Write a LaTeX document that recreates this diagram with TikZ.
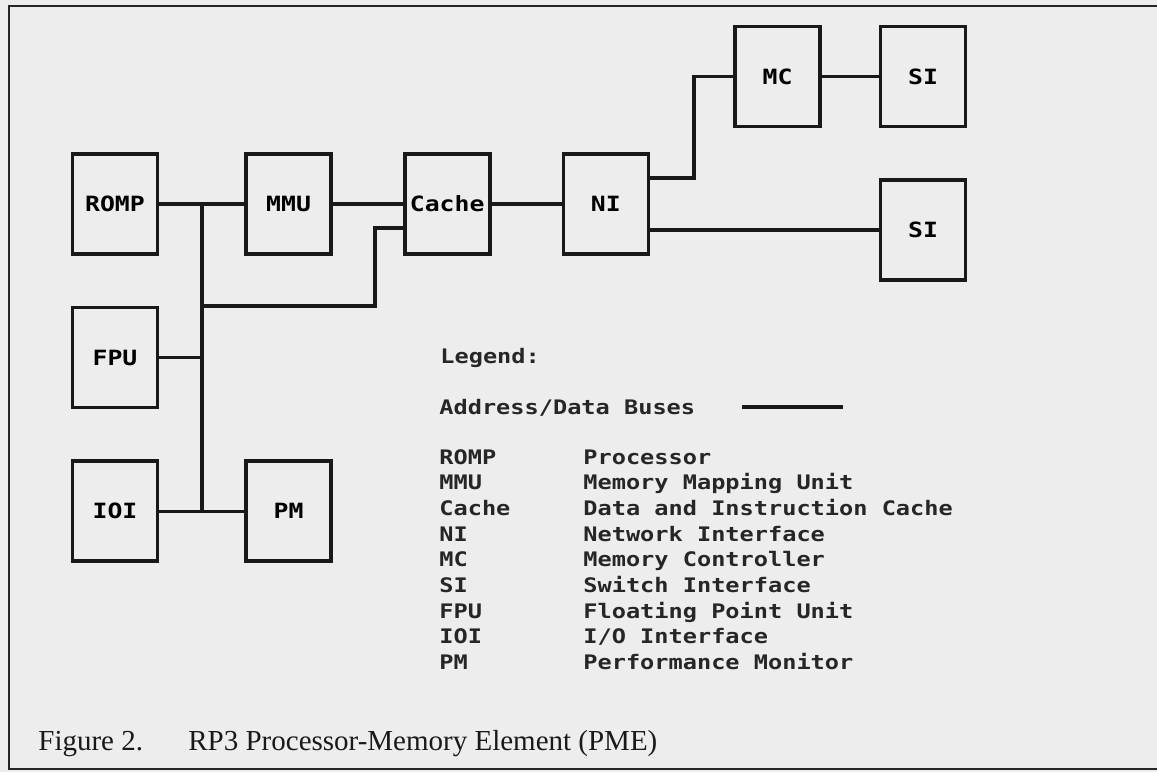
\documentclass[tikz,border=0pt]{standalone}
\usepackage{fontspec}
\setmainfont{Liberation Serif}
\newfontfamily\gothicfont[FakeStretch=1.18]{DejaVu Sans Mono}
\usetikzlibrary{positioning, calc}

\begin{document}
\begin{tikzpicture}[
    x=0.5pt, y=-0.5pt,
    node distance=25pt and 42.5pt,
    font=\gothicfont\bfseries\fontsize{10}{12}\selectfont,
    unit/.style={rectangle, draw=black!90, line width=1.8pt, minimum width=42.5pt, minimum height=50pt, inner sep=0pt, align=center, font=\gothicfont\bfseries\fontsize{10.5}{12}\selectfont},
    bus/.style={draw=black!90, line width=1.7pt},
    legtext/.style={anchor=base west, inner sep=0pt, text=black!85},
    captext/.style={anchor=base west, inner sep=0pt, text=black!90, font=\rmfamily\fontsize{14.5}{17}\selectfont}
]

% Paper and frame
\useasboundingbox (0,0) rectangle (1157,772);
\fill[black!7] (0,0) rectangle (1157,772);
\draw[line width=1.2pt, black!85] (1160,6) -- (9,6) -- (9,769) -- (1160,769);

% Processor side
\node[unit] (blk_romp) at (115,204) {ROMP};
\node[unit, right=of blk_romp] (blk_mmu) {MMU};
\node[unit, right=35pt of blk_mmu] (blk_cache) {Cache};
\node[unit, right=35pt of blk_cache] (blk_ni) {NI};
\node[unit, below=of blk_romp] (blk_fpu) {FPU};
\node[unit, below=of blk_fpu] (blk_ioi) {IOI};
\node[unit, right=of blk_ioi] (blk_pm) {PM};

% Memory and switch side
\node[unit] (blk_mc) at (777.5,76.5) {MC};
\node[unit, right=28.5pt of blk_mc] (blk_si_a) {SI};
\node[unit, below=of blk_si_a] (blk_si_b) {SI};

% Bus points
\coordinate (bus_top) at ($(blk_romp.east)!0.5!(blk_mmu.west)$);
\coordinate (bus_bot) at (bus_top |- blk_ioi.east);
\coordinate (cache_in) at ([yshift=-12pt]blk_cache.west);
\coordinate (cache_riser) at ([xshift=-14pt]cache_in);
\coordinate (mc_riser) at ([xshift=22pt]blk_ni.east);

% Connections
\draw[bus] (blk_romp.east) -- (blk_mmu.west);
\draw[bus] (bus_top) -- (bus_bot);
\draw[bus] (blk_fpu.east) -- (blk_fpu.east -| bus_top);
\draw[bus] (blk_ioi.east) -- (blk_pm.west);
\draw[bus] (bus_top |- blk_fpu.north) -| (cache_riser) -- (cache_in);
\draw[bus] (blk_mmu.east) -- (blk_cache.west);
\draw[bus] (blk_cache.east) -- (blk_ni.west);
\draw[bus] ([yshift=13pt]blk_ni.east) -| (mc_riser |- blk_mc.west) -- (blk_mc.west);
\draw[bus] (blk_mc.east) -- (blk_si_a.west);
\draw[bus] (blk_ni.east |- blk_si_b.west) -- (blk_si_b.west);

% Legend
\node[legtext] (leg_title) at (440,363) {Legend:};
\node[legtext] (leg_bus) at (439,414) {Address/Data Buses};
\coordinate (key_a) at (742,407);
\coordinate (key_b) at (843,407);
\draw[bus] (key_a) -- (key_b);

\node[legtext] (abbr_romp) at (439,464) {ROMP};
\node[legtext] (desc_romp) at (583,464) {Processor};
\node[legtext] (abbr_mmu) at (439,489.7) {MMU};
\node[legtext] (desc_mmu) at (583,489.7) {Memory Mapping Unit};
\node[legtext] (abbr_cache) at (439,515.4) {Cache};
\node[legtext] (desc_cache) at (583,515.4) {Data and Instruction Cache};
\node[legtext] (abbr_ni) at (439,541.1) {NI};
\node[legtext] (desc_ni) at (583,541.1) {Network Interface};
\node[legtext] (abbr_mc) at (439,566.8) {MC};
\node[legtext] (desc_mc) at (583,566.8) {Memory Controller};
\node[legtext] (abbr_si) at (439,592.5) {SI};
\node[legtext] (desc_si) at (583,592.5) {Switch Interface};
\node[legtext] (abbr_fpu) at (439,618.2) {FPU};
\node[legtext] (desc_fpu) at (583,618.2) {Floating Point Unit};
\node[legtext] (abbr_ioi) at (439,643.9) {IOI};
\node[legtext] (desc_ioi) at (583,643.9) {I/O Interface};
\node[legtext] (abbr_pm) at (439,669.6) {PM};
\node[legtext] (desc_pm) at (583,669.6) {Performance Monitor};

% Caption
\node[captext] (cap_num) at (38,750) {Figure 2.};
\node[captext] (cap_title) at (188,750) {RP3 Processor-Memory Element (PME)};

\end{tikzpicture}
\end{document}
